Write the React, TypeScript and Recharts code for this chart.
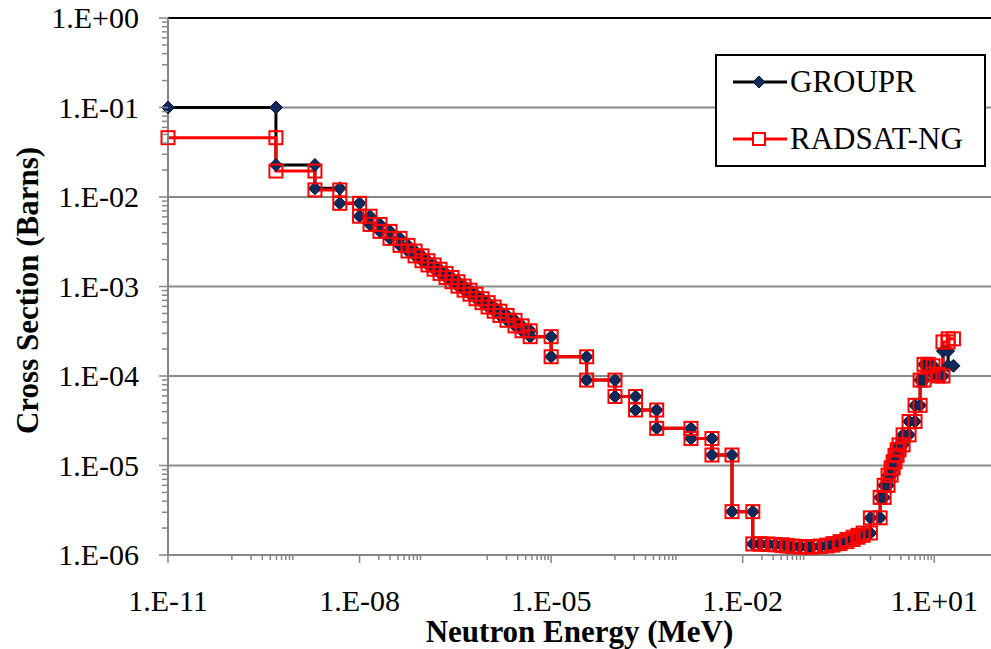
import React from "react";
import { LineChart, Line, XAxis, YAxis, ReferenceLine } from "recharts";

// Group boundaries (MeV), ascending. Each group is one step of the staircase.
const groupBounds = [
  1e-11, 4.9e-10, 2.0e-9, 4.9e-9, 1.0e-8,
  1.46e-8, 2.09e-8, 3.0e-8, 4.3e-8, 5.74e-8,
  7.4e-8, 9.5e-8, 1.18e-7, 1.47e-7, 1.82e-7,
  2.26e-7, 2.8e-7, 3.48e-7, 4.33e-7, 5.37e-7,
  6.67e-7, 8.28e-7, 1.03e-6, 1.28e-6, 1.58e-6,
  2.04e-6, 2.72e-6, 3.5e-6, 4.7e-6, 1.0e-5,
  3.6e-5, 1.0e-4, 2.1e-4, 4.5e-4, 1.55e-3,
  3.3e-3, 6.8e-3, 1.44e-2, 1.87e-2, 2.49e-2,
  3.21e-2, 4.13e-2, 4.95e-2, 6.15e-2, 7.9e-2,
  0.102, 0.122, 0.163, 0.209, 0.26,
  0.335, 0.43, 0.535, 0.64, 0.77,
  1.0, 1.42, 1.64, 1.89, 2.11,
  2.27, 2.43, 2.62, 2.81, 3.25,
  4.03, 5.0, 6.0, 6.92, 8.0,
  9.56, 11.5, 13.7, 16.5, 20,
];

// Cross section per group (barns)
const grouprValues = [
  0.1, 0.0228, 0.0125, 0.0085,
  0.0061, 4.94e-3, 4.13e-3, 3.45e-3, 2.88e-3,
  2.49e-3, 2.2e-3, 1.94e-3, 1.74e-3, 1.56e-3,
  1.4e-3, 1.26e-3, 1.13e-3, 1.01e-3, 9.1e-4,
  8.2e-4, 7.3e-4, 6.6e-4, 5.9e-4, 5.3e-4,
  4.75e-4, 4.19e-4, 3.63e-4, 3.2e-4, 2.75e-4,
  1.64e-4, 9.0e-5, 5.9e-5, 4.17e-5, 2.6e-5,
  2.0e-5, 1.31e-5, 3.05e-6,
  1.33e-6, 1.33e-6, 1.31e-6, 1.3e-6, 1.28e-6,
  1.26e-6, 1.24e-6, 1.23e-6, 1.23e-6, 1.24e-6,
  1.26e-6, 1.29e-6, 1.34e-6, 1.41e-6, 1.49e-6,
  1.58e-6, 1.66e-6, 1.76e-6,
  2.6e-6, 4.4e-6, 6.0e-6, 7.8e-6, 9.4e-6,
  1.1e-5, 1.3e-5, 1.5e-5, 1.7e-5, 2.2e-5,
  3.1e-5, 4.7e-5, 9.0e-5, 1.35e-4, 1.3e-4,
  1.05e-4, 1.0e-4, 1.9e-4, 1.3e-4,
];

const radsatValues = [
  0.046, 0.0195, 0.012, 0.0085,
  0.0061, 4.94e-3, 4.13e-3, 3.45e-3, 2.88e-3,
  2.49e-3, 2.2e-3, 1.94e-3, 1.74e-3, 1.56e-3,
  1.4e-3, 1.26e-3, 1.13e-3, 1.01e-3, 9.1e-4,
  8.2e-4, 7.3e-4, 6.6e-4, 5.9e-4, 5.3e-4,
  4.75e-4, 4.19e-4, 3.63e-4, 3.2e-4, 2.75e-4,
  1.64e-4, 9.0e-5, 5.9e-5, 4.17e-5, 2.6e-5,
  2.0e-5, 1.31e-5, 3.05e-6,
  1.33e-6, 1.33e-6, 1.31e-6, 1.3e-6, 1.28e-6,
  1.26e-6, 1.24e-6, 1.23e-6, 1.23e-6, 1.24e-6,
  1.26e-6, 1.29e-6, 1.34e-6, 1.41e-6, 1.49e-6,
  1.58e-6, 1.66e-6, 1.76e-6,
  2.6e-6, 4.4e-6, 6.0e-6, 7.8e-6, 9.4e-6,
  1.1e-5, 1.3e-5, 1.5e-5, 1.7e-5, 2.2e-5,
  3.1e-5, 4.7e-5, 9.0e-5, 1.35e-4, 1.3e-4,
  1.05e-4, 1.0e-4, 2.4e-4, 2.6e-4,
];

// Axis ticks
const xMajorTicks = [1e-11, 1e-8, 1e-5, 1e-2, 1e1];
const xMinorDecades = [1e-10, 1e-8, 1e-6, 1e-4, 1e-2, 1e0];
const yMajorTicks = [1e-6, 1e-5, 1e-4, 1e-3, 1e-2, 1e-1, 1];
const minorSteps = [1, 2, 3, 4, 5, 6, 7, 8, 9];

const PLOT_LEFT = 168;
const PLOT_BOTTOM = 555;
const FONT = '"Liberation Serif", "Times New Roman", serif';

/** Two points per group: the group's lower and upper energy at its value. */
function stepPoints(values: number[]) {
  const pts: { x: number; y: number }[] = [];
  values.forEach((v, i) => {
    pts.push({ x: groupBounds[i], y: v });
    pts.push({ x: groupBounds[i + 1], y: v });
  });
  return pts;
}

const grouprData = stepPoints(grouprValues);
const radsatData = stepPoints(radsatValues);

const isMajor = (v: number, majors: number[]) => majors.some((m) => Math.abs(v / m - 1) < 1e-6);

const xTicks = Array.from(
  new Set([...xMajorTicks, ...xMinorDecades.flatMap((d) => minorSteps.map((k) => k * d))])
).sort((a, b) => a - b);

const yTicks = Array.from(
  new Set([...yMajorTicks, ...yMajorTicks.slice(0, -1).flatMap((d) => minorSteps.map((k) => k * d))])
).sort((a, b) => a - b);

function sci(v: number): string {
  const e = Math.round(Math.log10(v));
  return `1.E${e < 0 ? "-" : "+"}${String(Math.abs(e)).padStart(2, "0")}`;
}

function XTick(props: any) {
  const { x, payload } = props;
  const major = isMajor(payload.value, xMajorTicks);
  return (
    <g>
      <line x1={x} x2={x} y1={PLOT_BOTTOM} y2={PLOT_BOTTOM + (major ? 8 : 5)} stroke="#868686" strokeWidth={1.5} />
      {major && (
        <text x={x} y={PLOT_BOTTOM + 56} textAnchor="middle" fontFamily={FONT} fontSize={30} fill="#000">
          {sci(payload.value)}
        </text>
      )}
    </g>
  );
}

function YTick(props: any) {
  const { y, payload } = props;
  const major = isMajor(payload.value, yMajorTicks);
  return (
    <g>
      <line x1={PLOT_LEFT} x2={PLOT_LEFT - (major ? 9 : 6)} y1={y} y2={y} stroke="#868686" strokeWidth={1.5} />
      {major && (
        <text x={PLOT_LEFT - 29} y={y + 10} textAnchor="end" fontFamily={FONT} fontSize={30} fill="#000">
          {sci(payload.value)}
        </text>
      )}
    </g>
  );
}

const renderDiamond = (props: any) => {
  const { cx, cy, index } = props;
  if (cx == null || cy == null) return <g key={`d${index}`} />;
  const r = 6.5;
  return (
    <polygon
      key={`d${index}`}
      points={`${cx},${cy - r} ${cx + r},${cy} ${cx},${cy + r} ${cx - r},${cy}`}
      fill="#10295a"
      stroke="#0a1a3a"
      strokeWidth={1}
    />
  );
};

const renderSquare = (props: any) => {
  const { cx, cy, index } = props;
  if (cx == null || cy == null) return <g key={`s${index}`} />;
  const h = 6.5;
  return (
    <rect key={`s${index}`} x={cx - h} y={cy - h} width={2 * h} height={2 * h} fill="none" stroke="#ff0000" strokeWidth={2} />
  );
};

function LegendBox() {
  const rows = [
    { name: "GROUPR", color: "#000000", marker: "diamond" },
    { name: "RADSAT-NG", color: "#ff0000", marker: "square" },
  ];
  return (
    <div
      style={{
        position: "absolute",
        left: 715,
        top: 54,
        width: 267,
        height: 109,
        border: "2px solid #000",
        background: "#fff",
        fontFamily: FONT,
        fontSize: 31,
      }}
    >
      {rows.map((r, i) => (
        <div key={r.name} style={{ position: "absolute", left: 15, top: 6 + i * 57, height: 40, display: "flex", alignItems: "center" }}>
          <svg width={56} height={20}>
            <line x1={1} x2={55} y1={10} y2={10} stroke={r.color} strokeWidth={3} />
            {r.marker === "diamond" ? (
              <polygon points="27,4 33,10 27,16 21,10" fill="#10295a" stroke="#0a1a3a" />
            ) : (
              <rect x={21} y={4} width={12} height={12} fill="#fff" stroke="#ff0000" strokeWidth={2} />
            )}
          </svg>
          <span style={{ marginLeft: 2 }}>{r.name}</span>
        </div>
      ))}
    </div>
  );
}

export default function App() {
  return (
    <div style={{ position: "absolute", left: 0, top: 0, width: 991, height: 649, background: "#fff" }}>
      <LineChart width={991} height={649} margin={{ top: 18, right: 0, bottom: 0, left: 0 }}>
        <XAxis
          dataKey="x"
          type="number"
          scale="log"
          domain={[1e-11, 77.4]}
          ticks={xTicks}
          interval={0}
          height={94}
          tick={<XTick />}
          tickLine={false}
          axisLine={{ stroke: "#868686", strokeWidth: 2 }}
          label={{
            content: (p: any) => {
              const vb = p.viewBox;
              return (
                <text x={vb.x + vb.width / 2} y={vb.y + 87} textAnchor="middle" fontFamily={FONT} fontSize={31} fontWeight="bold" fill="#000">
                  Neutron Energy (MeV)
                </text>
              );
            },
          }}
        />
        <YAxis
          type="number"
          scale="log"
          domain={[1e-6, 1]}
          ticks={yTicks}
          interval={0}
          width={168}
          tick={<YTick />}
          tickLine={false}
          axisLine={{ stroke: "#868686", strokeWidth: 2 }}
          label={{
            content: (p: any) => {
              const vb = p.viewBox;
              const cy = vb.y + vb.height / 2;
              return (
                <text
                  transform={`translate(38, ${cy + 4}) rotate(-90)`}
                  textAnchor="middle"
                  fontFamily={FONT}
                  fontSize={31}
                  fontWeight="bold"
                  fill="#000"
                >
                  Cross Section (Barns)
                </text>
              );
            },
          }}
        />
        {yMajorTicks.slice(1).map((v) => (
          <ReferenceLine key={v} y={v} stroke={v === 1 ? "#000" : "#898989"} strokeWidth={2} />
        ))}
        <Line
          data={grouprData}
          dataKey="y"
          type="linear"
          stroke="#000"
          strokeWidth={3}
          dot={renderDiamond}
          isAnimationActive={false}
        />
        <Line
          data={radsatData}
          dataKey="y"
          type="linear"
          stroke="#ff0000"
          strokeWidth={3}
          dot={renderSquare}
          isAnimationActive={false}
        />
      </LineChart>
      <LegendBox />
    </div>
  );
}
